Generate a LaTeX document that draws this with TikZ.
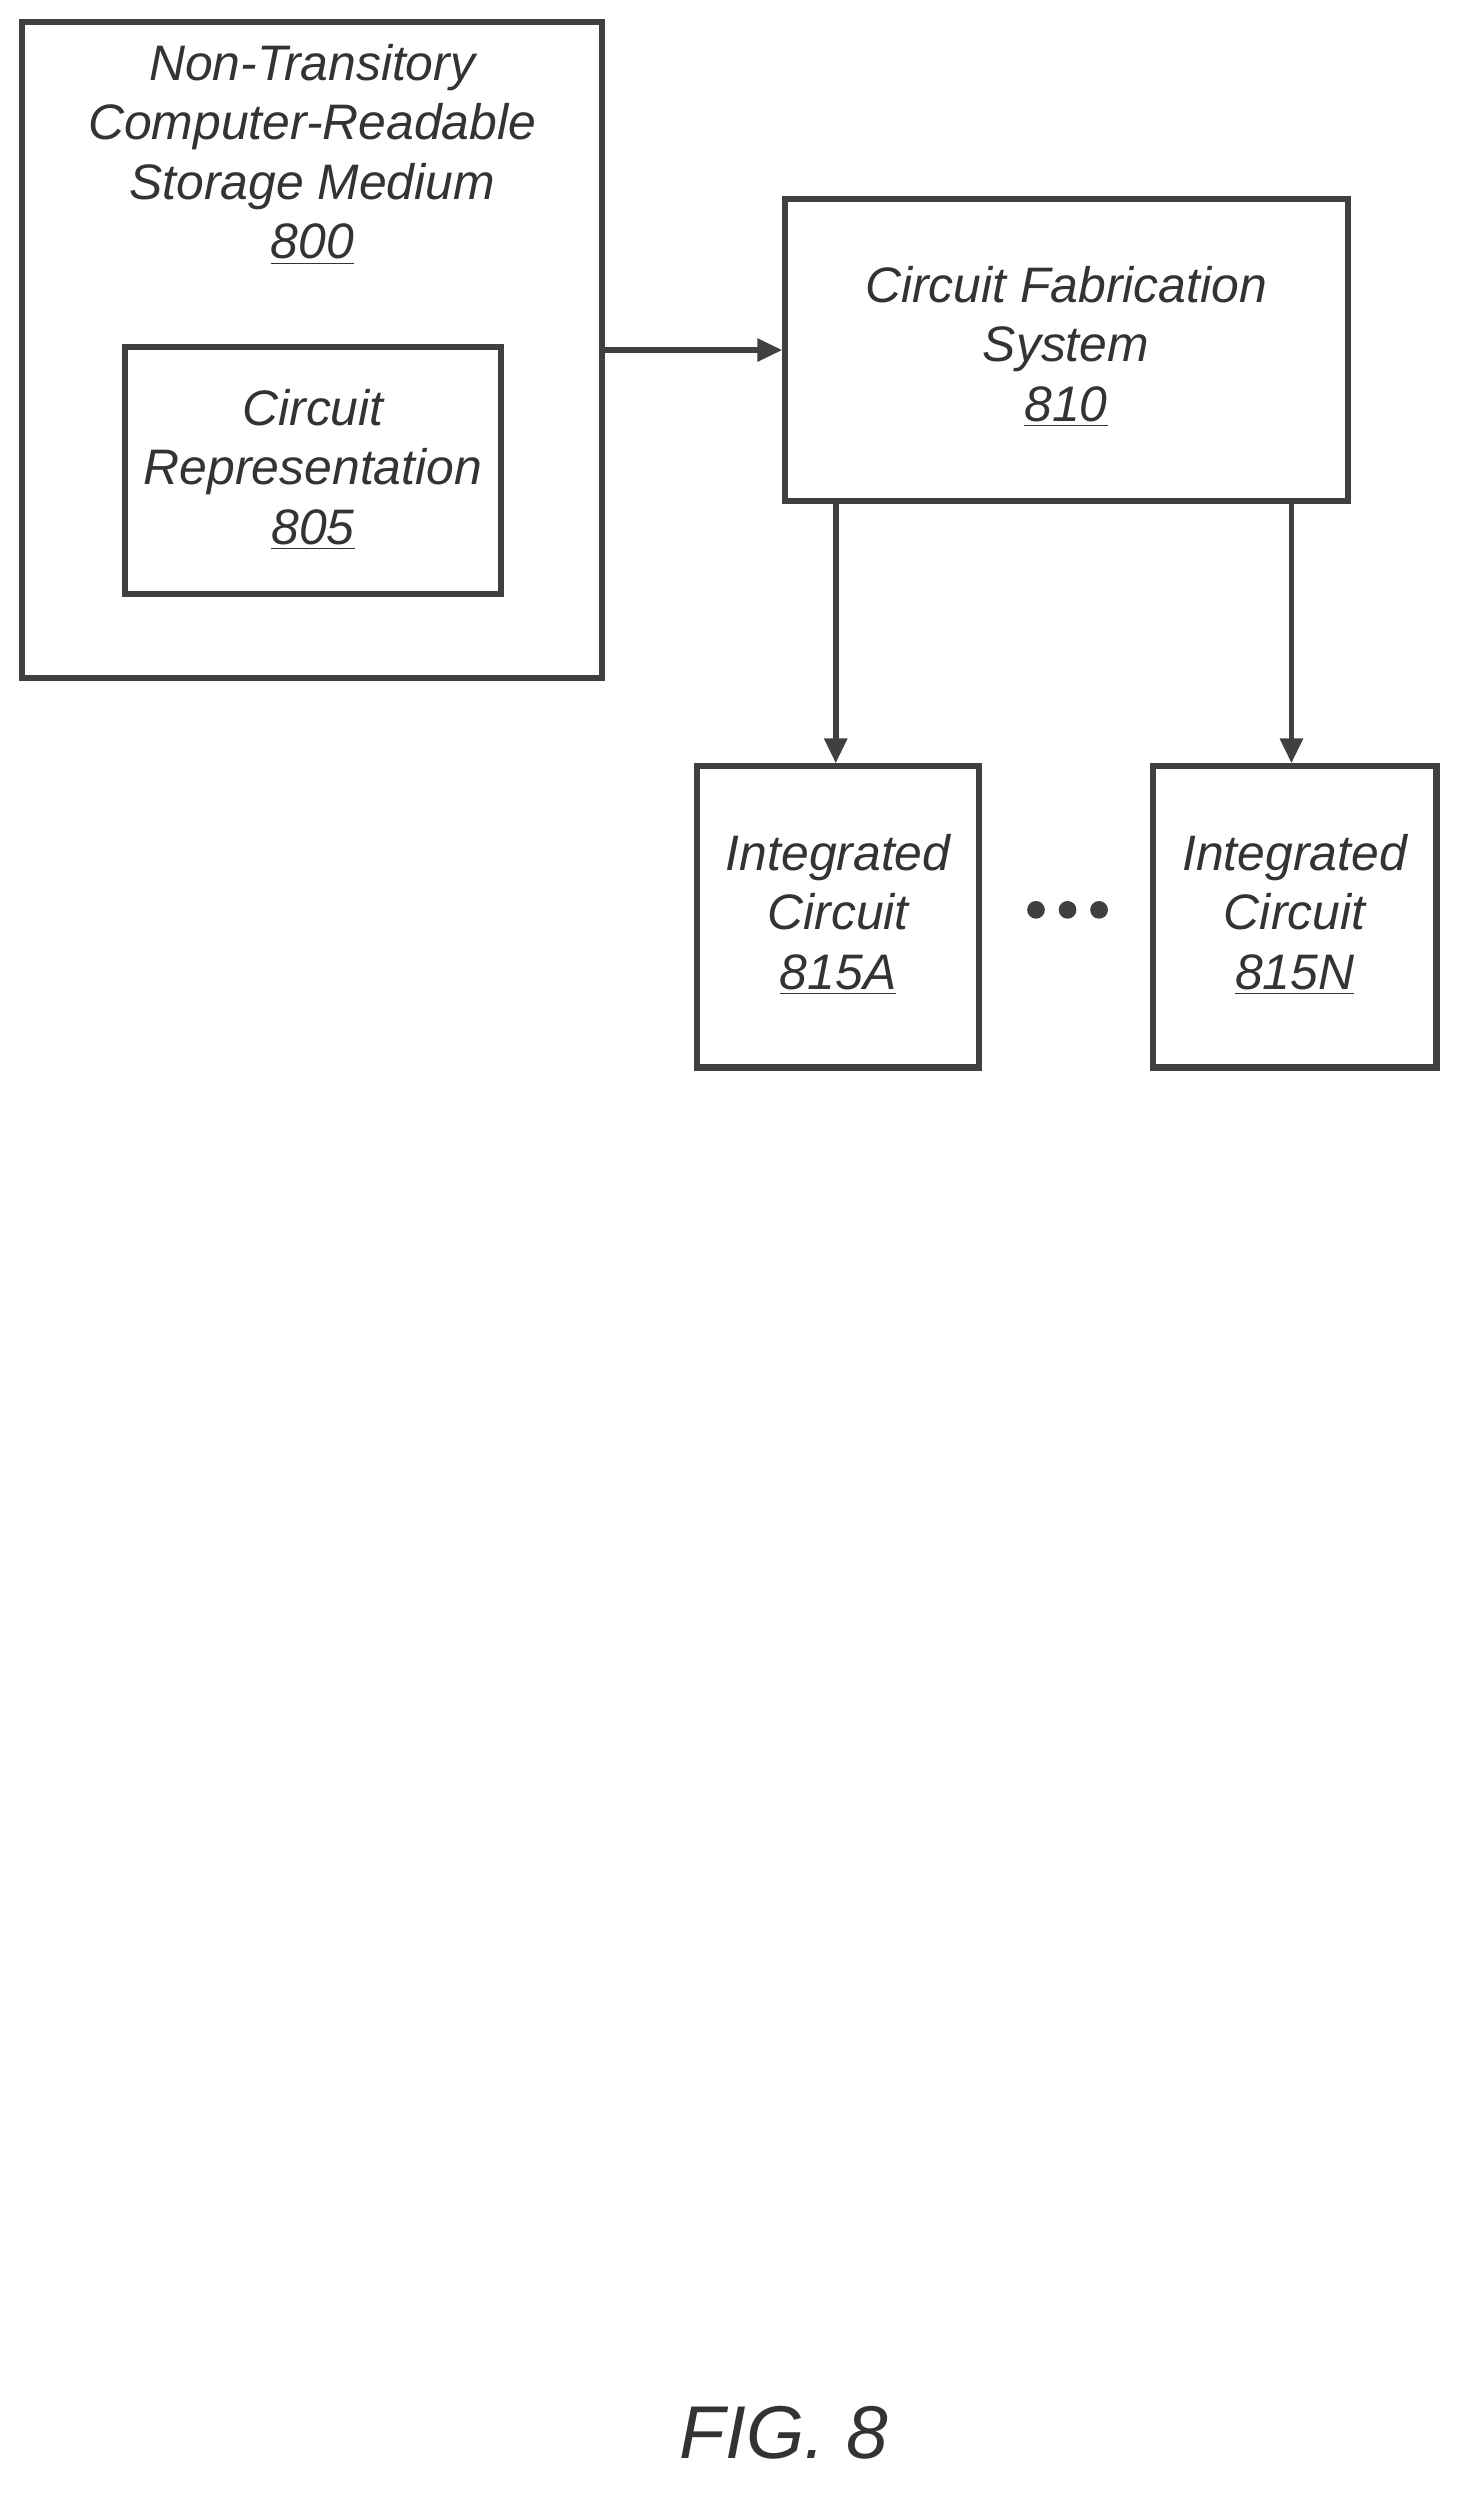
\documentclass[tikz,border=0pt]{standalone}
\usepackage{fontspec}
\setmainfont{Liberation Sans}
\usetikzlibrary{arrows.meta}
\begin{document}
\begin{tikzpicture}
[ x=0.02cm, y=-0.02cm
, box/.style={rectangle, draw=black!75, line width=2.2pt, inner sep=0pt}
, label text/.style={align=center, font=\fontsize{18}{21.5}\selectfont\itshape, text=black!80}
, link/.style={draw=black!75, line width=2pt, -{Triangle[length=9pt,width=8pt]}}
]
\useasboundingbox (0,0) rectangle (932,1581);
% storage medium and its circuit representation
\node (medium) [box, minimum width=7.36cm, minimum height=8.32cm] at (198,222) {};
\node (mediumtext) [label text] at (198,98) {Non-Transitory\\Computer-Readable\\Storage Medium\\\underline{800}};
\node (repr) [box, minimum width=4.78cm, minimum height=3.14cm] at (198.5,298.5) {};
\node (reprtext) [label text] at (198.5,298) {Circuit\\Representation\\\underline{805}};
% fabrication system
\node (fab) [box, minimum width=7.14cm, minimum height=3.84cm] at (676.5,222) {};
\node (fabtext) [label text] at (676,220) {Circuit Fabrication\\System\\\underline{810}};
% integrated circuits
\node (icA) [box, minimum width=3.58cm, minimum height=3.82cm] at (531.5,581.5) {};
\node (icAtext) [label text] at (531.5,580) {Integrated\\Circuit\\\underline{815A}};
\node (icN) [box, minimum width=3.6cm, minimum height=3.82cm] at (821,581.5) {};
\node (icNtext) [label text] at (821,580) {Integrated\\Circuit\\\underline{815N}};
\foreach \x in {657,677,697}
  \fill[black!75] (\x,577) circle (3.2pt);
\coordinate (fabA) at (530,318);
\coordinate (fabN) at (819,318);
\draw [link] (medium.east |- fab) -- (fab.west);
\draw [link] (fabA) -- (fabA |- icA.north);
\draw [link] (fabN) -- (fabN |- icN.north);
\node (fig) [font=\fontsize{27}{30}\selectfont\itshape, text=black!80] at (497,1543) {FIG. 8};
\end{tikzpicture}
\end{document}
